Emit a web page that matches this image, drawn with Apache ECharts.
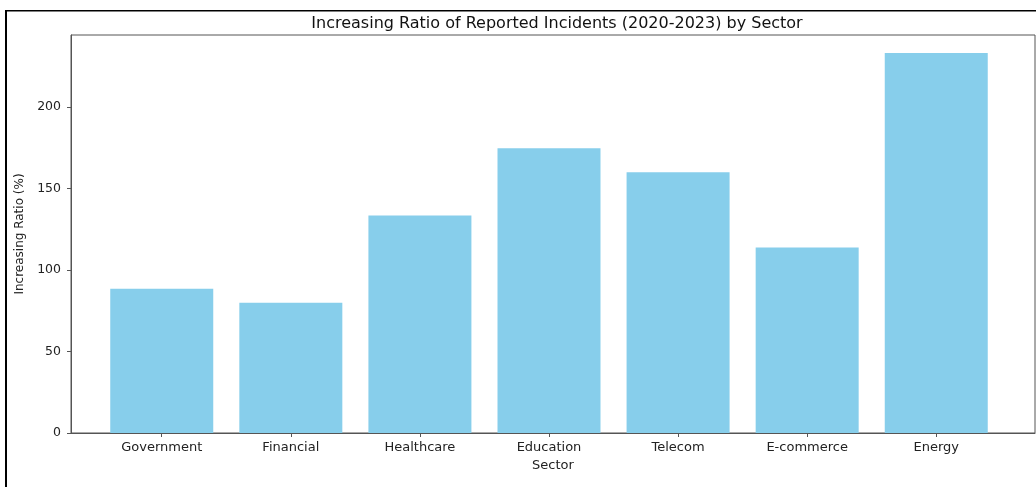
<!DOCTYPE html>
<html><head><meta charset="utf-8">
<script src="https://cdn.jsdelivr.net/npm/echarts@6/dist/echarts.min.js"></script>
<style>html,body{margin:0;padding:0;background:#fff}#c{width:1036px;height:487px}</style>
</head><body><div id="c"></div>
<script>
const categories = ['Government','Financial','Healthcare','Education','Telecom','E-commerce','Energy'];
const values = [88.6, 80.0, 133.5, 174.8, 160.0, 113.8, 233.2];
const yTicks = [0, 50, 100, 150, 200];

const chart = echarts.init(document.getElementById('c'), null, {renderer:'canvas'});
const font = 'DejaVu Sans';
chart.setOption({
  animation:false,
  backgroundColor:'#fff',
  title:{text:'Increasing Ratio of Reported Incidents (2020-2023) by Sector', left:552, top:11, textAlign:'center',
    textStyle:{fontFamily:font, fontSize:16, fontWeight:'normal', color:'#111'}},
  grid:{left:71, right:1, top:35, bottom:54, show:true, borderColor:'#555', borderWidth:1, containLabel:false},
  xAxis:{type:'value', min:-0.703, max:6.765,
    name:'Sector', nameLocation:'middle', nameGap:24.5, nameTextStyle:{fontFamily:font, fontSize:13, color:'#222'},
    splitLine:{show:false},
    axisLine:{show:true, onZero:false, lineStyle:{color:'#555'}},
    axisTick:{show:true, customValues:[0,1,2,3,4,5,6], length:4, lineStyle:{color:'#555'}},
    axisLabel:{customValues:[0,1,2,3,4,5,6], formatter:v=>categories[Math.round(v)], fontFamily:font, fontSize:13, color:'#222', margin:8}
  },
  yAxis:{type:'value', min:0, max:244.3, interval:50,
    name:'Increasing Ratio (%)', nameLocation:'middle', nameGap:43, nameRotate:90, nameTextStyle:{fontFamily:font, fontSize:12, color:'#222'},
    splitLine:{show:false},
    axisLine:{show:true, onZero:false, lineStyle:{color:'#555'}},
    axisTick:{show:true, length:4, customValues:yTicks, lineStyle:{color:'#555'}},
    axisLabel:{fontFamily:font, fontSize:12.5, color:'#222', margin:10, customValues:yTicks}
  },
  series:[{type:'bar', data:values.map((v,i)=>[i,v]), barWidth:103, itemStyle:{color:'#87ceeb'}, silent:true}],
  graphic:[
    {type:'rect', shape:{x:5, y:10, width:2, height:480}, style:{fill:'#000'}},
    {type:'rect', shape:{x:5, y:10, width:1040, height:1.5}, style:{fill:'#000'}}
  ]
});
</script></body></html>
